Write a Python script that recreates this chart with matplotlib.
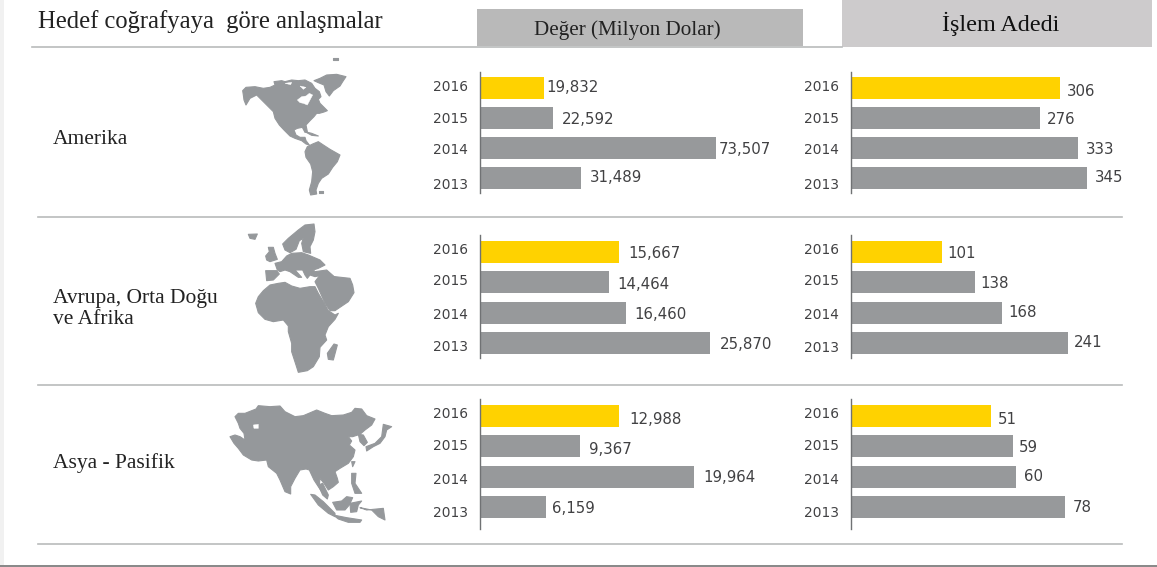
import matplotlib
matplotlib.use("Agg")
import matplotlib.pyplot as plt
from matplotlib.patches import Polygon, Rectangle

W, H = 1157, 567

years = ["2016", "2015", "2014", "2013"]

# deal value, million dollars
value_america = [19832, 22592, 73507, 31489]
value_emea = [15667, 14464, 16460, 25870]
value_apac = [12988, 9367, 19964, 6159]

# number of deals
count_america = [306, 276, 333, 345]
count_emea = [101, 138, 168, 241]
count_apac = [51, 59, 60, 78]

YELLOW = "#ffd200"
GREY = "#97999b"
MAP_GREY = "#95989b"
TEXT = "#414143"
SPINE = "#707274"
RULE = "#b9bbbb"

# map outlines, in 3x pixels relative to the map's own corner
america = [
    [(68,122),(78,112),(105,110),(130,115),(150,112),(165,105),(162,95),(185,92),(195,95),(215,90),
     (235,92),(255,90),(275,100),(285,115),(298,125),(303,140),(295,148),(300,160),(312,172),(322,182),
     (312,186),(298,190),(290,190),(282,200),(270,212),(258,225),(262,245),(255,247),(247,232),(232,235),
     (222,240),(228,255),(240,262),(255,262),(258,272),(268,285),(258,282),(245,272),(225,265),(210,258),
     (192,240),(178,225),(165,205),(160,185),(145,170),(125,150),(110,135),(90,145),(78,165),(72,150),(70,135)],
    [(282,92),(300,85),(320,75),(350,73),(378,80),(368,95),(360,108),(340,122),(328,138),(318,125),
     (312,105),(295,98)],
    [(255,305),(262,290),(278,282),(295,275),(310,285),(330,298),(360,315),(352,335),(338,352),(325,372),
     (305,385),(295,400),(288,420),(290,432),(272,435),(268,420),(275,395),(278,365),(272,342),(258,322)],
    [(255,245),(275,250),(295,258),(275,256)],
    [(340,24),(355,24),(355,29),(340,29)],
    [(298,423),(308,423),(308,428),(298,428)],
]
america_holes = [
    [(232,150),(245,140),(258,138),(268,130),(278,135),(270,150),(262,165),(250,160),(240,158)],
    [(195,100),(215,97),(212,104)],
    [(240,108),(258,112),(250,118)],
]

emea = [
    [(107,250),(115,230),(130,212),(150,195),(175,190),(195,187),(215,198),(240,205),(270,200),(285,200),
     (295,220),(310,245),(325,272),(345,285),(355,280),(345,298),(325,320),(315,345),(320,360),(300,382),
     (298,410),(280,440),(262,452),(235,457),(228,435),(215,395),(215,370),(205,335),(205,318),(190,300),
     (160,305),(135,298),(115,278)],
    [(295,205),(285,185),(300,165),(345,170),(390,175),(398,195),(402,218),(385,245),(345,272),(330,272),(315,250)],
    [(172,150),(165,130),(185,125),(200,108),(215,100),(245,98),(265,105),(300,120),(315,135),(295,145),
     (280,150),(285,155),(320,150),(345,172),(310,165),(285,170),(270,165),(262,175),(255,165),(248,150),
     (225,150),(245,172),(235,172),(210,155),(195,150),(180,155)],
    [(137,152),(170,152),(178,162),(160,180),(140,182)],
    [(188,72),(205,55),(235,30),(255,15),(282,12),(285,35),(280,60),(270,80),(272,100),(250,95),
     (245,70),(250,55),(238,62),(228,88),(210,98),(195,90)],
    [(137,108),(148,95),(145,82),(160,82),(165,100),(172,118),(150,125),(140,120)],
    [(85,43),(112,42),(105,58),(90,55)],
    [(342,372),(352,375),(340,420),(325,418),(322,400)],
]

apac = [
    [(45,65),(55,55),(75,55),(108,42),(115,32),(150,35),(180,33),(195,50),(225,65),(250,62),
     (290,45),(315,55),(335,62),(370,60),(395,52),(405,40),(425,42),(440,62),(465,72),(455,90),
     (435,105),(420,118),(398,125),(385,125),(395,138),(388,150),(405,165),(400,185),(385,205),(360,220),
     (345,230),(352,250),(355,262),(340,275),(325,285),(312,265),(300,250),(298,270),(305,290),(295,275),
     (282,255),(268,225),(258,222),(240,225),(225,250),(212,275),(212,297),(195,290),(180,255),(170,235),
     (145,215),(140,195),(115,198),(95,195),(70,180),(55,160),(42,145),(30,125),(45,120),(60,125),
     (75,135),(72,115),(60,100),(55,85)],
    [(490,88),(515,95),(500,105),(495,125),(480,145),(460,155),(440,168),(438,155),(465,145),(485,125)],
    [(415,118),(430,120),(442,142),(432,152),(420,140)],
    [(272,298),(285,300),(310,320),(345,355),(345,365),(325,355),(295,330)],
    [(295,270),(308,265),(325,300),(322,312),(308,300)],
    [(340,360),(380,368),(425,375),(420,382),(385,382),(355,372)],
    [(338,322),(365,318),(380,305),(398,308),(388,330),(375,345),(350,345)],
    [(390,325),(425,318),(415,330),(410,350),(392,352)],
    [(395,235),(408,235),(405,265),(425,295),(405,295),(395,265)],
    [(420,338),(440,345),(490,340),(495,375),(475,365),(455,345)],
    [(395,200),(405,200),(398,215)],
]
apac_holes = [[(100,90),(115,88),(115,100),(102,100)]]


def drawMap(bg, shapes, ox, oy, holes=()):
    for shape in shapes:
        pts = [(ox + x / 3, oy + y / 3) for x, y in shape]
        bg.add_patch(Polygon(pts, closed=True, fc=MAP_GREY, ec=MAP_GREY, lw=0.8, joinstyle="round"))
    for shape in holes:
        pts = [(ox + x / 3, oy + y / 3) for x, y in shape]
        bg.add_patch(Polygon(pts, closed=True, fc="white", ec="white", lw=0.3))


def drawPanel(fig, values, left, first, step, top, bottom, rate, gaps, value_dy, year_dy):
    # one small bar chart; rate is pixels per unit on its x axis
    width = 310
    ax = fig.add_axes([left / W, 1 - bottom / H, width / W, (bottom - top) / H])
    ax.set_xlim(0, width / rate)
    ax.set_ylim((bottom - first) / step, (top - first) / step)
    pos = list(range(len(values)))
    colors = [YELLOW] + [GREY] * (len(values) - 1)
    ax.barh(pos, values, height=22 / step, color=colors)
    for i, v in enumerate(values):
        ax.annotate(f"{v:,}", (v, i), xytext=(gaps[i], -value_dy[i] - 1), textcoords="offset pixels",
                    ha="left", va="center", fontsize=10.8, color=TEXT, family="DejaVu Sans")
        ax.annotate(years[i], (0, i), xytext=(-12, -year_dy[i] - 1), textcoords="offset pixels",
                    ha="right", va="center", fontsize=9.9, color=TEXT, family="DejaVu Sans")
    ax.set_xticks([])
    ax.set_yticks([])
    for side in ["top", "right", "bottom"]:
        ax.spines[side].set_visible(False)
    ax.spines["left"].set_color(SPINE)
    ax.spines["left"].set_linewidth(1.0)
    ax.patch.set_alpha(0)


def main():
    fig = plt.figure(figsize=(W / 100, H / 100), dpi=100, facecolor="white")

    # full-size layer in pixel coordinates for headers, rules and maps
    bg = fig.add_axes([0, 0, 1, 1])
    bg.set_xlim(0, W)
    bg.set_ylim(H, 0)
    bg.axis("off")

    bg.add_patch(Rectangle((0, 0), 4, H, fc="#f1f1f1", ec="none"))
    bg.add_patch(Rectangle((0, H - 2), W, 2, fc="#8a8a8a", ec="none"))
    bg.add_patch(Rectangle((477, 9), 326, 37, fc="#b9b9b9", ec="none"))
    bg.add_patch(Rectangle((842, 0), 310, 47, fc="#cdcbcc", ec="none"))

    bg.plot([32, 842], [46.5, 46.5], color=RULE, lw=1.2)
    for y in [217, 385, 544]:
        bg.plot([38, 1122], [y, y], color=RULE, lw=1.2)

    serif = "Liberation Serif"
    bg.text(38, 22, "Hedef coğrafyaya  göre anlaşmalar", family=serif, fontsize=17.7, color="#222222",
            ha="left", va="center")
    bg.text(627, 30, "Değer (Milyon Dolar)", family=serif, fontsize=15.2, color="#222222",
            ha="center", va="center")
    bg.text(1001, 24, "İşlem Adedi", family=serif, fontsize=17.4, color="#111111", ha="center", va="center")
    bg.text(53, 140, "Amerika", family=serif, fontsize=15.5, color="#222222", ha="left", va="center")
    bg.text(53, 299, "Avrupa, Orta Doğu", family=serif, fontsize=15.5, color="#222222", ha="left", va="center")
    bg.text(53, 320, "ve Afrika", family=serif, fontsize=15.5, color="#222222", ha="left", va="center")
    bg.text(53, 463, "Asya - Pasifik", family=serif, fontsize=15.5, color="#222222", ha="left", va="center")

    drawMap(bg, america, 220, 50, america_holes)
    drawMap(bg, emea, 220, 220)
    drawMap(bg, apac, 220, 395, apac_holes)

    # value column
    drawPanel(fig, value_america, 480, 88, 30, 72, 193, 236 / 73507, [3, 9, 3, 9], [-1, 1, 1, -1], [-2, 0, 1.5, 6])
    drawPanel(fig, value_emea, 480, 252, 30.3, 235, 358, 230 / 25870, [9, 9, 8, 10], [1, 1, 1, 1], [-3, -2, 1, 3])
    drawPanel(fig, value_apac, 480, 416, 30.3, 399, 529, 214 / 19964, [10, 9, 9, 6], [2, 2, 0, 1], [-3, -1, 2, 5])

    # deal count column
    drawPanel(fig, count_america, 851, 88, 30, 72, 193, 209 / 306, [7, 7, 7, 8], [2, 0, 1, -1], [-2, 0, 1.5, 6])
    drawPanel(fig, count_emea, 851, 252, 30.3, 235, 358, 91 / 101, [5, 5, 6, 6], [0, 0, -1, -1], [-3, -2, 1, 4])
    drawPanel(fig, count_apac, 851, 416, 30.3, 399, 529, 140 / 51, [7, 6, 8, 8], [2, 0, -1, 0], [-3, -1, 2, 5])

    fig.savefig("out.png", dpi=100)


main()
